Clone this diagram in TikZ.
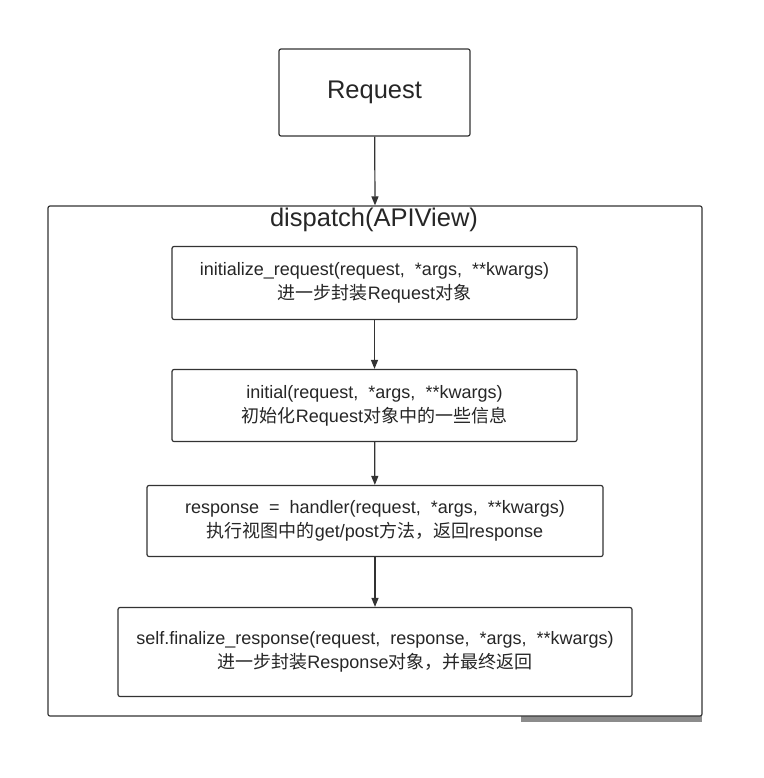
\documentclass[tikz,border=0pt]{standalone}
\usepackage{fontspec}
\setmainfont{Liberation Sans}
\newfontfamily\cjk{Noto Sans CJK SC}
\usetikzlibrary{arrows.meta, positioning}

\begin{document}
\begin{tikzpicture}[x=1pt, y=-1pt,
        % Define styles for the nodes
        step_box/.style={rectangle, draw=black!80, line width=1.2pt, rounded corners=2pt, align=center, inner sep=0pt, text=black!85, font=\fontsize{18}{24}\selectfont},
        frame_box/.style={rectangle, draw=black!80, line width=1.2pt, rounded corners=2pt, fill=white, inner sep=0pt},
        title_node/.style={font=\fontsize{25.5}{25.5}\selectfont, text=black!85, inner sep=0pt},
        % Styles for arrows
        arrow/.style={-{Triangle[length=9pt, width=7pt]}, line width=1.2pt, draw=black!80}
    ]
    \useasboundingbox (0,0) rectangle (763,778);

    % =====================================================
    % INPUT
    % =====================================================
    \node (request) [step_box, minimum width=191pt, minimum height=87pt, font=\fontsize{25.5}{25.5}\selectfont] at (374.5, 92.5) {Request};

    % =====================================================
    % DISPATCH FRAME
    % =====================================================
    \fill[black!45] (521, 710) rectangle (702, 722);
    \node (dispatch) [frame_box, minimum width=654pt, minimum height=510pt] at (375, 461) {};
    \node (dispatch_title) [title_node] at (374, 220) {dispatch(APIView)};
    \draw [arrow] (request) -- (dispatch.north);

    % =====================================================
    % STEPS INSIDE DISPATCH
    % =====================================================
    \node (init_req) [step_box, minimum width=405pt, minimum height=73pt] at (374.5, 283)
        {initialize\_request(request,\ \ *args,\ \ **kwargs)\\{\cjk 进一步封装}Request{\cjk 对象}};

    \node (initial) [step_box, minimum width=405pt, minimum height=72pt] at (374.5, 405.5)
        {initial(request,\ \ *args,\ \ **kwargs)\\{\cjk 初始化}Request{\cjk 对象中的一些信息}};
    \draw [arrow] (init_req) -- (initial);

    \node (handler) [step_box, minimum width=456pt, minimum height=71pt] at (375, 521)
        {response\ \ =\ \ handler(request,\ \ *args,\ \ **kwargs)\\{\cjk 执行视图中的}get/post{\cjk 方法，返回}response};
    \draw [arrow] (initial) -- (handler);

    \node (finalize) [step_box, minimum width=514pt, minimum height=89pt] at (375, 652)
        {self.finalize\_response(request,\ \ response,\ \ *args,\ \ **kwargs)\\{\cjk 进一步封装}Response{\cjk 对象，并最终返回}};
    \draw [arrow] (handler) -- (finalize);

\end{tikzpicture}
\end{document}
